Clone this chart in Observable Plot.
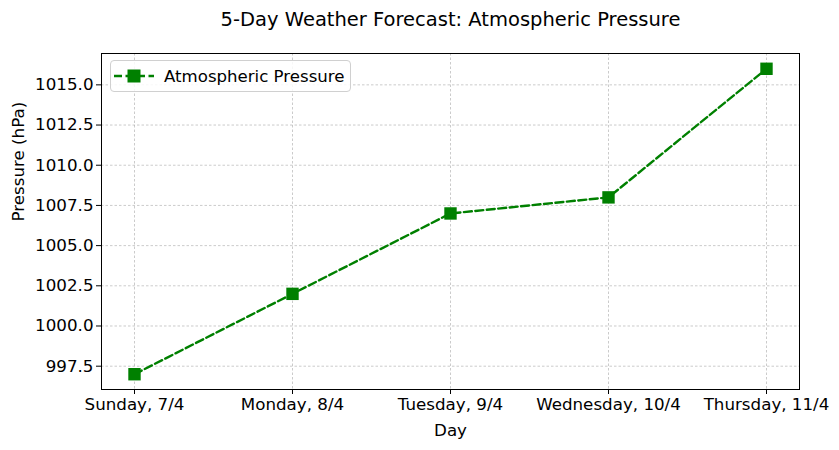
<!DOCTYPE html>
<html><head><meta charset="utf-8">
<script src="https://cdn.jsdelivr.net/npm/d3@7"></script>
<script src="https://cdn.jsdelivr.net/npm/@observablehq/plot@0.6"></script>
<style>
body{margin:0;background:#fff;font-family:"DejaVu Sans",sans-serif}
#wrap{position:relative;width:839px;height:450px}
#legend{position:absolute;left:110px;top:60px;width:241px;height:32px;border:1px solid #d0d0d0;border-radius:4px;background:rgba(255,255,255,0.85);box-sizing:border-box;display:flex;align-items:center;font-size:16.6px;color:#000}
#legend svg{margin-left:3px;margin-right:10px}
</style>
</head><body>
<div id="wrap"><div id="legend"><svg width="40" height="20"><line x1="0" x2="40" y1="10" y2="10" stroke="green" stroke-width="2.3" stroke-dasharray="8,3.5"/><rect x="13.5" y="3.5" width="13" height="13" fill="green"/></svg><span>Atmospheric Pressure</span></div></div>
<script>
const days = ["Sunday, 7/4", "Monday, 8/4", "Tuesday, 9/4", "Wednesday, 10/4", "Thursday, 11/4"];
const pressure = [997, 1002, 1007, 1008, 1016];
const yTicks = [997.5, 1000, 1002.5, 1005, 1007.5, 1010, 1012.5, 1015];
const seriesName = "Atmospheric Pressure";
const title = "5-Day Weather Forecast: Atmospheric Pressure";
const xLabel = "Day";
const yLabel = "Pressure (hPa)";

const data = days.map((d, i) => ({day: d, p: pressure[i]}));
const gridStyle = {stroke: "#a8a8a8", strokeOpacity: 1, strokeWidth: 0.6, strokeDasharray: "2.5,2"};

const chart = Plot.plot({
  width: 839, height: 450,
  marginTop: 53, marginBottom: 61, marginLeft: 101, marginRight: 40,
  style: {fontFamily: "DejaVu Sans", fontSize: "16.7px", color: "#000", background: "#fff"},
  x: {type: "point", domain: days, padding: 0.2, label: null},
  y: {domain: [996.05, 1016.95], label: null},
  marks: [
    Plot.gridX(days, gridStyle),
    Plot.gridY(yTicks, gridStyle),
    Plot.line(data, {x: "day", y: "p", stroke: "green", strokeWidth: 2.4, strokeDasharray: "8,3.5"}),
    Plot.dot(data, {x: "day", y: "p", symbol: "square", fill: "green", r: 7}),
    Plot.frame({stroke: "#000", strokeWidth: 1}),
    Plot.axisX(days, {tickSize: 5, tickPadding: 4, fontSize: 16.7, label: null, stroke: "#000", fill: "#000"}),
    Plot.axisY(yTicks, {tickSize: 5, tickPadding: 3, fontSize: 16.7, label: null, stroke: "#000", fill: "#000", tickFormat: d => d.toFixed(1)}),
    Plot.text([xLabel], {frameAnchor: "bottom", dy: 41, lineAnchor: "middle", fontSize: 16.7, fill: "#000"}),
    Plot.text([yLabel], {frameAnchor: "left", dx: -83, rotate: -90, lineAnchor: "middle", fontSize: 16.7, fill: "#000"}),
    Plot.text([title], {frameAnchor: "top", dy: -34, lineAnchor: "middle", fontSize: 19.5, fill: "#000"})
  ]
});
chart.style.position = "absolute";
chart.style.left = "0"; chart.style.top = "0";
const wrap = document.getElementById("wrap");
wrap.insertBefore(chart, wrap.firstChild);
</script>
</body></html>
